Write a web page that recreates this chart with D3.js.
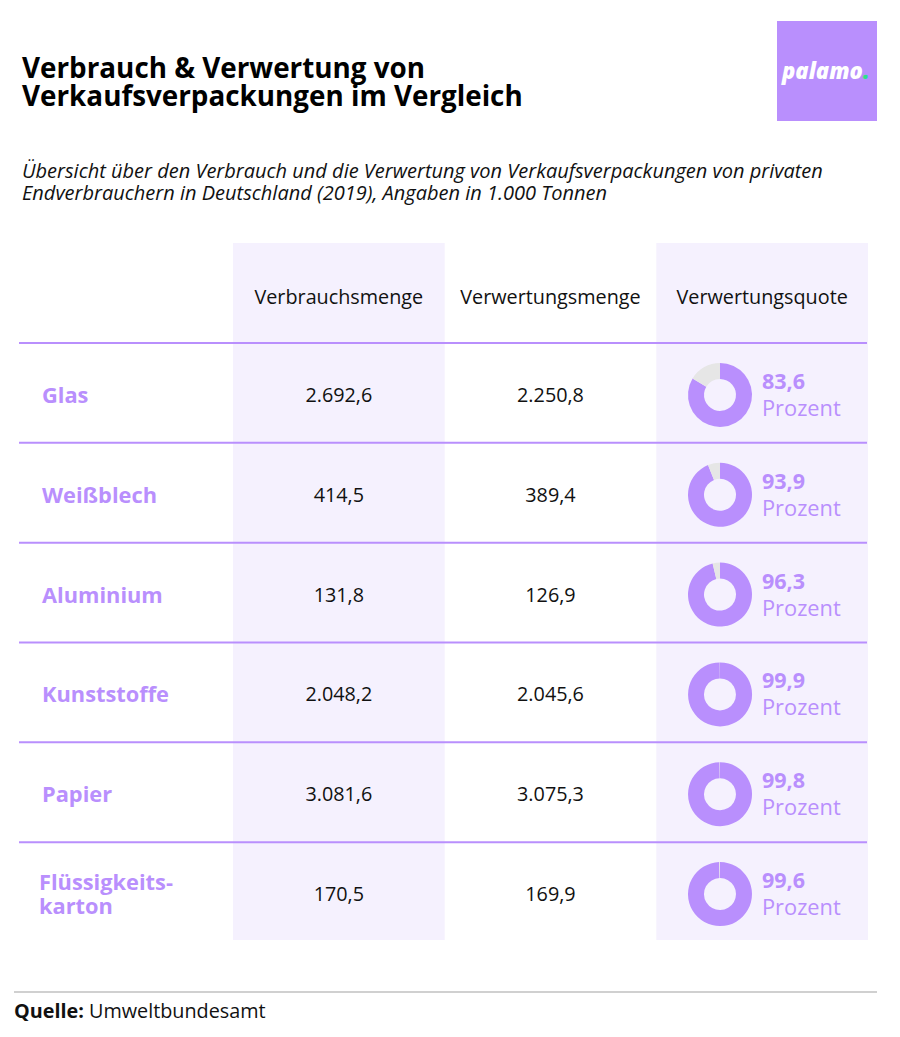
<!DOCTYPE html>
<html><head><meta charset="utf-8">
<script src="https://cdn.jsdelivr.net/npm/d3@7"></script>
<style>body{margin:0;background:#fff}svg{display:block;font-family:"Open Sans",sans-serif}</style>
</head><body><svg id="c" width="900" height="1037"></svg>
<script>
const categories = ["Glas","Weißblech","Aluminium","Kunststoffe","Papier","Flüssigkeits-\nkarton"];
const verbrauch = [2692.6, 414.5, 131.8, 2048.2, 3081.6, 170.5];
const verwertung = [2250.8, 389.4, 126.9, 2045.6, 3075.3, 169.9];
const quote = [83.6, 93.9, 96.3, 99.9, 99.8, 99.6];
const columns = ["Verbrauchsmenge","Verwertungsmenge","Verwertungsquote"];

const purple = "#b98ffd", shade = "#f5f1fe", gray = "#e6e6e6";
const svg = d3.select("#c");
const fmt = d3.formatLocale({decimal:",",thousands:".",grouping:[3],currency:["","€"]}).format(",.1f");

// title
svg.append("text").attr("x",22).attr("y",78).attr("font-size",27.8).attr("font-weight",700).attr("fill","#000").text("Verbrauch & Verwertung von");
svg.append("text").attr("x",22).attr("y",106).attr("font-size",27.8).attr("font-weight",700).attr("fill","#000").text("Verkaufsverpackungen im Vergleich");
// logo
svg.append("rect").attr("x",777).attr("y",21).attr("width",100).attr("height",100).attr("fill",purple);
const lg = svg.append("text").attr("x",782).attr("y",79).attr("font-size",22).attr("font-weight",800).attr("font-style","italic").attr("fill","#fff");
lg.append("tspan").text("palamo");
lg.append("tspan").attr("fill","#2ee08a").text(".");
// subtitle
svg.append("text").attr("x",22).attr("y",178).attr("font-size",20).attr("font-style","italic").attr("fill","#111").text("Übersicht über den Verbrauch und die Verwertung von Verkaufsverpackungen von privaten");
svg.append("text").attr("x",22).attr("y",200).attr("font-size",20).attr("font-style","italic").attr("fill","#111").text("Endverbrauchern in Deutschland (2019), Angaben in 1.000 Tonnen");

// scales
const x = d3.scaleBand().domain(columns).range([233, 868]).paddingInner(0);
const y = d3.scaleBand().domain(d3.range(categories.length)).range([343, 942]);

// shaded columns
[columns[0], columns[2]].forEach(c=>{
  svg.append("rect").attr("x",x(c)).attr("y",243).attr("width",x.bandwidth()).attr("height",697).attr("fill",shade);
});
// headers
columns.forEach(c=>{
  svg.append("text").attr("x",x(c)+x.bandwidth()/2).attr("y",304).attr("text-anchor","middle").attr("font-size",19.8).attr("fill","#111").text(c);
});
// separator lines
d3.range(categories.length).forEach(i=>{
  svg.append("line").attr("x1",19).attr("x2",867).attr("y1",y(i)).attr("y2",y(i)).attr("stroke",purple).attr("stroke-width",2);
});

const arc = d3.arc().innerRadius(16).outerRadius(32);
const pie = d3.pie().sort(null);

categories.forEach((cat,i)=>{
  const cy = y(i)+y.bandwidth()/2 + 2;
  const lines = cat.split("\n");
  const lt = svg.append("text").attr("font-size",21.8).attr("font-weight",700).attr("fill",purple);
  lines.forEach((l,k)=>{
    lt.append("tspan").attr("x",lines.length>1?39:42).attr("y",cy + 8 + (k - (lines.length-1)/2)*24).text(l);
  });
  svg.append("text").attr("x",x(columns[0])+x.bandwidth()/2).attr("y",cy+7).attr("text-anchor","middle").attr("font-size",19.8).attr("fill","#111").text(fmt(verbrauch[i]));
  svg.append("text").attr("x",x(columns[1])+x.bandwidth()/2).attr("y",cy+7).attr("text-anchor","middle").attr("font-size",19.8).attr("fill","#111").text(fmt(verwertung[i]));
  const g = svg.append("g").attr("transform",`translate(${720},${cy})`);
  g.selectAll("path").data(pie([quote[i], 100-quote[i]])).join("path")
    .attr("d",arc).attr("fill",(d,k)=>k===0?purple:gray);
  svg.append("text").attr("x",762).attr("y",cy-6).attr("font-size",21.5).attr("font-weight",700).attr("fill",purple).text(fmt(quote[i]));
  svg.append("text").attr("x",762).attr("y",cy+21).attr("font-size",21.8).attr("fill",purple).text("Prozent");
});

// source
svg.append("line").attr("x1",14).attr("x2",877).attr("y1",992).attr("y2",992).attr("stroke","#d0d0d0").attr("stroke-width",2);
const src = svg.append("text").attr("x",14).attr("y",1018).attr("font-size",19.8).attr("fill","#111");
src.append("tspan").attr("font-weight",700).text("Quelle:");
src.append("tspan").text(" Umweltbundesamt");
</script></body></html>
